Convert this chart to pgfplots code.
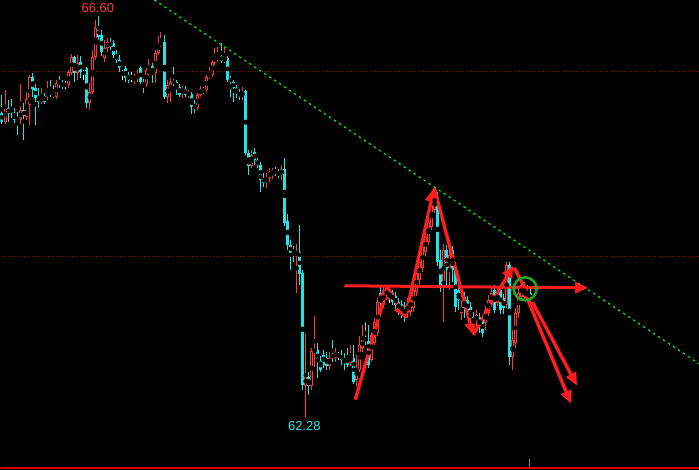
\documentclass[border=0pt]{standalone}
\usepackage{pgfplots}
\pgfplotsset{compat=1.18}
\usepackage{pgfplotstable}
\usepackage{fontspec}
\setmainfont{Liberation Sans}
\usetikzlibrary{arrows.meta}
\definecolor{upc}{RGB}{255,55,55}
\definecolor{dnc}{RGB}{30,230,230}
\definecolor{arr}{RGB}{255,30,30}
\definecolor{gridred}{RGB}{125,15,15}
\definecolor{trend}{RGB}{0,240,0}
\definecolor{circ}{RGB}{35,165,35}

% candles: x = bar position, o h l c in screen units (down = lower price)
\pgfplotstableread{
x o h l c
1.5 113 95 124 122
5 122 90 124 107
8.5 108 100 122 114
11.5 108 99 118 113
14 114 108 123 120
17 118 112 135 120
20 120 84 124 110
23.5 110 103 140 116
26.5 117 92 120 99
29.5 105 75 125 77
32.5 77 73 97 90
35.5 88 84 125 98
38.5 97 88 108 102
41 102 88 104 97
44 96 93 104 102
47.5 97 81 100 92
50.5 90 80 97 95
53 93 85 98 96
56 97 80 99 83
59 82 76 88 84
62 83 80 89 87
65 85 81 89 85
68 85 70 88 72
71.5 73 54 75 57
74.5 57 56 82 73
77.5 73 55 80 63
80.5 62 56 78 72
83.5 68 66 80 68
86.5 68 67 108 103
89.5 103 83 110 92
92.5 92 50 94 57
95.5 57 20 60 28
98.5 28 16 40 37
101.5 35 30 56 52
104.5 58 40 62 48
107 48 38 52 42
110 42 38 50 47
113 43 40 58 55
116 55 50 63 60
119 60 55 72 68
122 68 67 80 68
125.5 68 66 82 78
128 75 72 83 80
131.5 78 72 82 78
134.5 80 74 84 77
137.5 78 70 82 75
140.5 68 66 84 82
143.5 82 79 93 86
146 84 68 87 70
148.5 73 59 76 70
152.5 66 63 83 74
155.5 73 50 83 53
158 53 36 55 43
160.5 44 32 48 42
164.5 42 35 99 97
167.5 97 80 103 85
170.5 92 78 102 82
173.5 81 67 86 83
176 82 80 95 88
179 87 84 97 95
182 93 86 98 89
185 89 86 97 95
188.5 95 90 98 93
191.5 94 92 114 107
194.5 106 100 113 107
197.5 108 93 110 95
200.5 95 86 97 89
203.5 90 87 94 92
206.5 90 75 92 77
209.5 77 67 79 75
212 75 60 77 62
214.5 63 48 65 57
217.5 60 47 62 56
221 56 43 63 61
224.5 61 48 63 58
227.5 58 56 82 80
230.5 78 76 97 82
233.5 82 80 102 88
236.5 88 85 98 93
239.5 92 89 100 96
242 96 87 100 93
245.5 91 90 155 153
248.5 153 150 175 166
251.5 166 150 168 155
254.5 152 148 165 160
257.5 160 158 168 165
260.5 165 162 192 180
263.5 178 173 187 183
266.5 182 173 188 177
269.5 178 168 182 172
272.5 175 168 179 170
275.5 170 167 176 173
278.5 172 169 178 175
281.5 175 165 180 169
284.5 169 158 226 223
287.5 221 214 250 245
290.5 245 240 270 253
293.5 250 246 262 253
296.5 255 244 293 252
299.5 252 225 285 274
302.5 273 270 390 385
305.5 386 333 418 377
308.5 377 372 395 386
311.5 386 348 390 351
314.5 352 316 367 350
317.5 350 343 378 362
320.5 361 356 372 370
323.5 355 350 368 365
326.5 358 352 370 366
329.5 366 352 370 358
332.5 355 340 362 358
335.5 358 348 362 352
338.5 356 352 360 356
341.5 355 350 365 360
344.5 357 353 370 363
347.5 358 348 367 365
350.5 363 345 366 356
353.5 358 345 384 382
356.5 380 355 386 368
359.5 370 336 372 345
362.5 348 325 352 340
365.5 338 322 345 341
368.5 341 325 368 365
371.5 360 332 362 335
374.5 343 318 345 322
377.5 333 298 336 302
380.5 293 287 315 303
383.5 305 287 308 290
386.5 298 286 300 288
389.5 295 290 303 295
392.5 293 290 305 302
395.5 296 292 310 305
398.5 302 298 315 310
401.5 304 300 318 312
404.5 306 302 322 317
407.5 313 298 318 304
410.5 312 294 316 297
413.5 308 285 312 290
416.5 292 268 296 273
419.5 280 255 285 262
422.5 268 243 272 247
425.5 252 233 256 237
428.5 242 215 245 222
431.5 227 198 230 205
434.5 210 188 213 199
437.5 198 192 266 262
440.5 260 250 292 285
443.5 287 244 322 250
446.5 250 245 285 270
449.5 268 250 290 255
452.5 250 246 282 270
455.5 267 262 312 307
458.5 290 285 310 300
461.5 313 300 320 307
464.5 297 292 318 310
467.5 300 296 318 312
470.5 307 302 330 318
473.5 317 312 332 323
476.5 322 310 326 315
479.5 317 313 333 327
482.5 320 317 337 333
485.5 323 306 330 310
488.5 313 295 316 300
491.5 303 288 306 293
494.5 290 285 313 310
497.5 303 288 306 293
500.5 290 286 314 310
503.5 298 294 314 308
506.5 305 262 308 265
509.5 265 262 365 357
512.5 357 330 370 340
515.5 343 308 348 313
518.5 313 288 318 293
521.5 297 280 300 285
524.5 297 282 300 290
527.5 292 285 302 298
530.5 293 288 306 303
533 302 295 304 298
}\candles

\pgfplotsset{
  cbar/.style 2 args={only marks, mark=none, forget plot,
    error bars/.cd, y dir=both, y explicit, error mark=none,
    error bar style={draw=#1, line width=#2}},
}

\begin{document}
\begin{tikzpicture}
\fill[black] (0,0) rectangle (699pt,470pt);
\begin{axis}[
  scale only axis, width=699pt, height=470pt,
  xmin=0, xmax=699, ymin=0, ymax=470, y dir=reverse,
  axis lines=none, clip=true,
  unbounded coords=discard,
]
% reference horizontal dotted lines
\addplot[gridred, line width=0.8pt, dash pattern=on 1pt off 1.4pt] coordinates {(0,71) (699,71)};
\addplot[gridred, line width=0.8pt, dash pattern=on 1pt off 1.4pt] coordinates {(0,257) (699,257)};
% trend line
\addplot[trend, line width=1.2pt, dash pattern=on 2.5pt off 3.5pt] coordinates {(154,0) (699,364)};

% red (up) candles: wick, body outline, hollow inside
\addplot[cbar={upc}{1pt}] table[x=x,
  y expr={\thisrow{c}<\thisrow{o} ? (\thisrow{h}+\thisrow{l})/2 : nan},
  y error expr={(\thisrow{l}-\thisrow{h})/2}] {\candles};
\addplot[cbar={upc}{3pt}] table[x=x,
  y expr={\thisrow{c}<\thisrow{o} ? (\thisrow{o}+\thisrow{c})/2 : nan},
  y error expr={(\thisrow{o}-\thisrow{c})/2}] {\candles};
\addplot[cbar={black}{1.1pt}] table[x=x,
  y expr={\thisrow{o}-\thisrow{c}>2 ? (\thisrow{o}+\thisrow{c})/2 : nan},
  y error expr={(\thisrow{o}-\thisrow{c})/2-0.9}] {\candles};
% cyan (down) candles
\addplot[cbar={dnc}{1pt}] table[x=x,
  y expr={\thisrow{c}>\thisrow{o} ? (\thisrow{h}+\thisrow{l})/2 : nan},
  y error expr={(\thisrow{l}-\thisrow{h})/2}] {\candles};
\addplot[cbar={dnc}{3pt}] table[x=x,
  y expr={\thisrow{c}>\thisrow{o} ? (\thisrow{o}+\thisrow{c})/2 : nan},
  y error expr={(\thisrow{c}-\thisrow{o})/2}] {\candles};
% white doji
\addplot[cbar={white}{1pt}] table[x=x,
  y expr={\thisrow{c}==\thisrow{o} ? (\thisrow{h}+\thisrow{l})/2 : nan},
  y error expr={(\thisrow{l}-\thisrow{h})/2}] {\candles};
\addplot[only marks, mark=none, forget plot,
  error bars/.cd, x dir=both, x fixed=1.7, error mark=none,
  error bar style={draw=white, line width=1pt}] table[x=x,
  y expr={\thisrow{c}==\thisrow{o} ? \thisrow{c} : nan}] {\candles};

% bottom line and marker
\addplot[red!85!black, line width=1.6pt] coordinates {(0,468.6) (699,468.6)};
\addplot[gray, line width=0.6pt] coordinates {(529,459) (529,467.5)};

% hand-drawn annotation arrows
\addplot[arr, line width=3pt, -{Triangle[length=13pt,width=11pt]}] coordinates {(344,286) (588,288)};
\addplot[arr, line width=2.6pt] coordinates {(515,287.5) (578,288)};
\addplot[arr, line width=3.4pt, -{Triangle[length=12pt,width=11pt]}] coordinates {(355,400) (387,287)};
\addplot[arr, line width=3.4pt, -{Triangle[length=12pt,width=11pt]}] coordinates {(387,287) (405,318)};
\addplot[arr, line width=3.4pt, -{Triangle[length=14pt,width=12pt]}] coordinates {(405,318) (434,188)};
\addplot[arr, line width=3.4pt, -{Triangle[length=12pt,width=11pt]}] coordinates {(434,188) (473,335)};
\addplot[arr, line width=3.4pt, -{Triangle[length=12pt,width=11pt]}] coordinates {(473,335) (513,266)};
\addplot[arr, line width=3.4pt, -{Triangle[length=13pt,width=11pt]}] coordinates {(514,268) (577,386)};
\addplot[arr, line width=3.4pt, -{Triangle[length=13pt,width=11pt]}] coordinates {(524,291) (571,404)};
% circle marker
\addplot[only marks, mark=o, mark size=11.5pt, mark options={draw=circ, line width=2.6pt}] coordinates {(525,289)};

% price labels
\node[text=upc, font=\fontsize{13}{15}\selectfont, inner sep=0pt] at (axis cs:97.5,8) {66.60};
\node[text=dnc, font=\fontsize{13}{15}\selectfont, inner sep=0pt] at (axis cs:304,426.5) {62.28};
\end{axis}
\end{tikzpicture}
\end{document}
